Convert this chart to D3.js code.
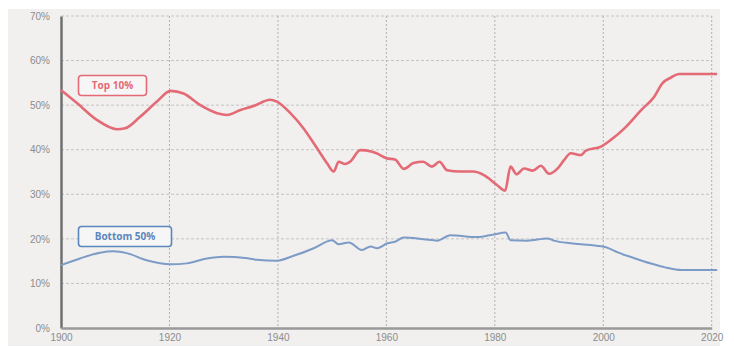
<!DOCTYPE html>
<html><head><meta charset="utf-8">
<script src="https://cdn.jsdelivr.net/npm/d3@7"></script>
<style>body{margin:0;background:#fff;}svg{display:block;font-family:"Open Sans",sans-serif;}</style>
</head><body>
<svg id="c" width="734" height="347"></svg>
<script>
const topYears = [1900,1903,1906.6,1910.3,1911.8,1914.6,1917.7,1920.2,1922.6,1925.7,1928.8,1930.6,1933.1,1935.5,1938.6,1939.8,1942.3,1944.6,1947.4,1949.1,1950.3,1951.2,1952.4,1953.3,1955.2,1957.2,1958.2,1960,1961.6,1963.2,1965,1966.8,1968.4,1969.8,1971.2,1973.6,1976,1978,1980.4,1981.9,1982.9,1984,1985.4,1987,1988.5,1990,1991.6,1992.8,1994,1995.9,1996.8,1999.6,2001.4,2003.9,2007,2009.4,2010.9,2012.5,2014,2017,2021];
const topValues = [53.4,50.4,46.7,44.6,44.8,47.4,50.8,53.2,52.6,50.0,48.2,47.8,48.9,49.8,51.2,50.8,48.2,45.0,40.0,36.9,35.1,37.3,36.8,37.3,39.9,39.6,39.2,38.1,37.8,35.7,37.0,37.3,36.2,37.3,35.4,35.1,35.1,34.3,32.1,30.8,36.2,34.5,35.8,35.3,36.4,34.6,35.8,37.7,39.2,38.8,39.8,40.7,42.2,44.8,48.9,51.9,54.9,56.2,57.0,57.0,57.0];
const botYears = [1900,1903.5,1907.2,1909.7,1912.1,1915.8,1920.2,1923.2,1926.9,1930,1934,1936.1,1939.8,1942.9,1946.6,1950,1951.2,1953.1,1955.5,1957.1,1958.3,1960.2,1961.7,1963.2,1966.9,1969.4,1971.8,1976.8,1979.8,1982,1982.9,1986,1989.7,1990.9,1994,1997.7,2000.5,2002.8,2005.9,2009,2011.4,2014.5,2017.5,2021];
const botValues = [14.1,15.6,16.9,17.2,16.8,15.2,14.3,14.5,15.6,16.0,15.7,15.3,15.1,16.2,17.9,19.7,18.8,19.2,17.5,18.3,17.9,19.0,19.4,20.3,19.9,19.6,20.8,20.4,21.0,21.4,19.7,19.6,20.1,19.6,19.0,18.6,18.1,16.9,15.6,14.4,13.6,13.0,13.0,13.0];
const xTicks = [1900,1920,1940,1960,1980,2000,2020];
const yTicks = [0,10,20,30,40,50,60,70];
const seriesNames = ["Top 10%","Bottom 50%"];

const svg = d3.select("#c");
svg.append("rect").attr("x",8).attr("y",9).attr("width",712).attr("height",337).attr("fill","#f1f0ef");

const x = d3.scaleLinear().domain([1900,2020]).range([61,711.7]);
const y = d3.scaleLinear().domain([0,70]).range([328,16]);

// grid
svg.append("g").selectAll("line").data(yTicks.filter(d=>d>0)).join("line")
  .attr("x1",x(1900)).attr("x2",x(2020)).attr("y1",d=>y(d)).attr("y2",d=>y(d))
  .attr("stroke","#c4c4c4").attr("stroke-width",1).attr("stroke-dasharray","3,2");
svg.append("g").selectAll("line").data(xTicks.filter(d=>d>1900)).join("line")
  .attr("x1",d=>x(d)).attr("x2",d=>x(d)).attr("y1",y(70)).attr("y2",y(0))
  .attr("stroke","#b0b0b0").attr("stroke-width",1).attr("stroke-dasharray","2,2");

// axes
const yAxis = d3.axisLeft(y).tickValues(yTicks).tickFormat(d=>d+"%").tickSize(0).tickPadding(11);
const gy = svg.append("g").attr("transform",`translate(${x(1900)},0)`).call(yAxis);
gy.select(".domain").attr("stroke","#707070").attr("stroke-width",2.5);
gy.selectAll("text").attr("fill","#8c8c8c").attr("font-size",10);

const xAxis = d3.axisBottom(x).tickValues(xTicks).tickFormat(d3.format("d")).tickSize(0).tickPadding(6);
const gx = svg.append("g").attr("transform",`translate(0,${y(0)})`).call(xAxis);
gx.select(".domain").attr("stroke","#9a9a9a").attr("stroke-width",2.5);
gx.selectAll("text").attr("fill","#8c8c8c").attr("font-size",10);

const line = d3.line().curve(d3.curveMonotoneX).x(d=>x(d[0])).y(d=>y(d[1]));
svg.append("path").datum(d3.zip(topYears,topValues)).attr("d",line)
  .attr("fill","none").attr("stroke","#e46a76").attr("stroke-width",2.6).attr("stroke-linejoin","round");
svg.append("path").datum(d3.zip(botYears,botValues)).attr("d",line)
  .attr("fill","none").attr("stroke","#7c9bc6").attr("stroke-width",2).attr("stroke-linejoin","round");

// labels
function label(txt, x0, y0, w, h, col){
  svg.append("rect").attr("x",x0).attr("y",y0).attr("width",w).attr("height",h).attr("rx",3)
    .attr("fill","#f6f6f6").attr("stroke",col).attr("stroke-width",1.6);
  svg.append("text").attr("x",x0+w/2).attr("y",y0+h/2+3.5).attr("text-anchor","middle")
    .attr("fill",col).attr("font-size",10).attr("font-weight",700).text(txt);
}
label(seriesNames[0],78.5,75.5,68,20,"#e46a76");
label(seriesNames[1],78.5,226.5,93,20,"#5b86bd");
</script>
</body></html>
